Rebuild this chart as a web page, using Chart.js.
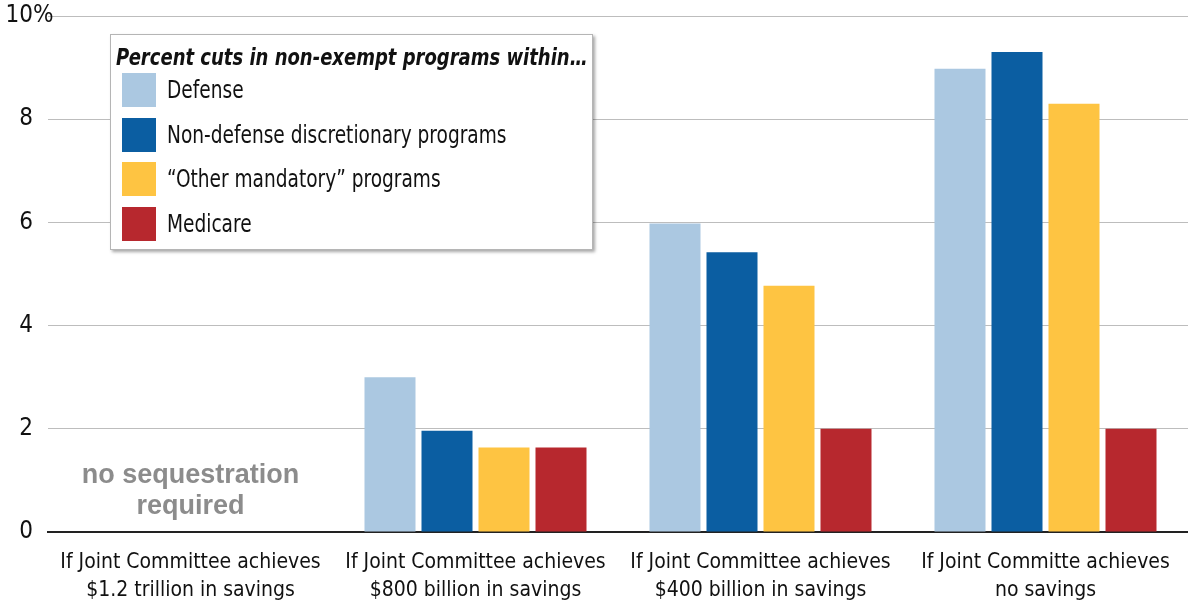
<!DOCTYPE html>
<html>
<head>
<meta charset="utf-8">
<script src="https://cdn.jsdelivr.net/npm/chart.js@4.4.1/dist/chart.umd.min.js"></script>
<style>
  html, body { margin: 0; padding: 0; background: #fff; }
  #wrap { position: relative; width: 1188px; height: 611px; }
  #legend {
    position: absolute; left: 110px; top: 34px; width: 481px; height: 214px;
    background: #fff; border: 1px solid #b5b5b5;
    box-shadow: 2px 2px 3px rgba(0,0,0,0.35);
    font-family: 'Liberation Sans Narrow', 'DejaVu Sans Condensed', 'Liberation Sans', sans-serif;
    color: #111;
  }
  #legend .title { position: absolute; left: 5px; top: 9px; font-size: 23px; font-weight: bold; font-style: italic; white-space: nowrap; transform: scaleX(0.87); transform-origin: left center; }
  #legend .item { position: absolute; left: 11px; height: 34px; white-space: nowrap; font-size: 24px; line-height: 34px; }
  #legend .sw { display: inline-block; width: 34px; height: 34px; vertical-align: top; margin-right: 11px; }
  #legend .txt { display: inline-block; transform: scaleX(0.86); transform-origin: left center; }
</style>
</head>
<body>
<div id="wrap">
  <canvas id="chart" width="1188" height="611"></canvas>
  <div id="legend"></div>
</div>
<script>
const FONT = "'Liberation Sans Narrow', 'DejaVu Sans Condensed', 'Liberation Sans', sans-serif";

const categories = [
    ['If Joint Committee achieves', '$1.2 trillion in savings'],
    ['If Joint Committee achieves', '$800 billion in savings'],
    ['If Joint Committee achieves', '$400 billion in savings'],
    ['If Joint Committe achieves', 'no savings']
];

const seriesNames = ['Defense', 'Non-defense discretionary programs', '\u201COther mandatory\u201D programs', 'Medicare'];
const seriesColors = ['#abc8e1', '#0b5ea2', '#fec442', '#b7282e'];

const defense      = [null, 3.0, 5.98, 8.98];
const nonDefense   = [null, 1.96, 5.42, 9.3];
const otherMand    = [null, 1.64, 4.77, 8.3];
const medicare     = [null, 1.64, 2.0, 2.0];

const yTicks = [0, 2, 4, 6, 8, 10];
const legendTitle = 'Percent cuts in non-exempt programs within\u2026';
const noteLines = ['no sequestration', 'required'];

const seriesValues = [defense, nonDefense, otherMand, medicare];

// gray note in the empty first group + the hanging "%" on the top tick
const extras = {
    id: 'extras',
    afterDraw(chart) {
        const ctx = chart.ctx;
        const x = chart.scales.x;
        const y = chart.scales.y;
        ctx.save();
        ctx.fillStyle = '#8c8c8c';
        ctx.font = "bold 27px 'Liberation Sans', Arial, sans-serif";
        ctx.textAlign = 'center';
        ctx.textBaseline = 'middle';
        const cx = x.getPixelForValue(0);
        ctx.fillText(noteLines[0], cx, y.getPixelForValue(1.1));
        ctx.fillText(noteLines[1], cx, y.getPixelForValue(0.5));

        ctx.fillStyle = '#111';
        ctx.font = '24px ' + FONT;
        ctx.textAlign = 'left';
        const top = yTicks[yTicks.length - 1];
        ctx.fillText('%', y.right - 15, y.getPixelForValue(top));
        ctx.restore();
    }
};

new Chart(document.getElementById('chart'), {
    type: 'bar',
    data: {
        labels: categories,
        datasets: seriesNames.map((name, i) => ({
            label: name,
            data: seriesValues[i],
            backgroundColor: seriesColors[i],
            categoryPercentage: 0.8,
            barPercentage: 0.895
        }))
    },
    options: {
        responsive: false,
        animation: false,
        layout: { padding: { top: 16, right: 0, left: 0, bottom: 0 } },
        plugins: { legend: { display: false }, tooltip: { enabled: false } },
        scales: {
            x: {
                grid: { display: false, drawTicks: false },
                border: { display: true, color: '#222', width: 2 },
                ticks: { color: '#111', font: { family: FONT, size: 21, lineHeight: 1.35 }, padding: 16, maxRotation: 0, autoSkip: false },
                afterFit: s => { s.height = 79; }
            },
            y: {
                min: 0, max: 10,
                afterBuildTicks: s => { s.ticks = yTicks.map(v => ({ value: v })); },
                grid: { color: '#bdbdbd', lineWidth: 1, drawTicks: false },
                border: { display: false },
                ticks: { color: '#111', font: { family: FONT, size: 24 }, padding: 15 },
                afterFit: s => { s.width = 48; s.paddingTop = 0; s.paddingBottom = 0; }
            }
        }
    },
    plugins: [extras]
});

// html legend built from the same series arrays
const lg = document.getElementById('legend');
lg.innerHTML = `<div class="title">${legendTitle}</div>` + seriesNames.map((n, i) =>
    `<div class="item" style="top:${38 + i * 44.5}px"><span class="sw" style="background:${seriesColors[i]}"></span><span class="txt">${n}</span></div>`
).join('');
</script>
</body>
</html>
